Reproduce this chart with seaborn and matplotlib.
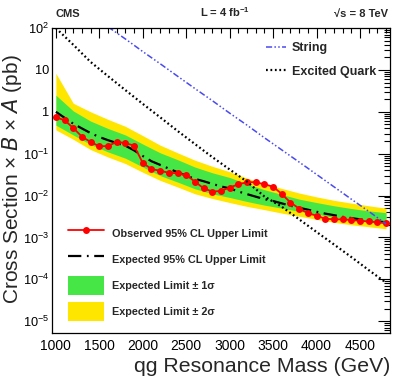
import numpy as np
import pandas as pd
import seaborn as sns
import matplotlib.pyplot as plt
from matplotlib.patches import Patch
from matplotlib.lines import Line2D
from matplotlib.ticker import FixedLocator, LogLocator, NullFormatter, MultipleLocator

# qg resonance mass points (GeV)
mass = [1000, 1100, 1200, 1300, 1400, 1500, 1600, 1700, 1800, 1900,
        2000, 2100, 2200, 2300, 2400, 2500, 2600, 2700, 2800, 2900,
        3000, 3100, 3200, 3300, 3400, 3500, 3600, 3700, 3800, 3900,
        4000, 4100, 4200, 4300, 4400, 4500, 4600, 4700, 4800]
observed = [0.74, 0.63, 0.41, 0.255, 0.19, 0.15, 0.152, 0.193, 0.178, 0.156,
            0.060, 0.043, 0.039, 0.035, 0.034, 0.031, 0.0215, 0.0149, 0.0124, 0.0129,
            0.0155, 0.0186, 0.0208, 0.0208, 0.0186, 0.0163, 0.0109, 0.0068, 0.0049, 0.0038,
            0.0033, 0.0028, 0.0027, 0.0027, 0.0026, 0.0025, 0.0024, 0.0023, 0.0022]
expected = [1.0, 0.72, 0.52, 0.40, 0.31, 0.25, 0.21, 0.18, 0.155, 0.12,
            0.088, 0.066, 0.054, 0.044, 0.036, 0.030, 0.025, 0.022, 0.019, 0.0165,
            0.0148, 0.0125, 0.0108, 0.0094, 0.0082, 0.0074, 0.0065, 0.0057, 0.0051, 0.0046,
            0.0041, 0.0037, 0.0034, 0.0031, 0.0029, 0.0027, 0.0025, 0.0024, 0.0023]

# expected limit bands
band_mass = [1000, 1200, 1400, 1600, 1800, 2000, 2200, 2400, 2600, 2800,
             3000, 3200, 3400, 3600, 3800, 4000, 4200, 4400, 4600, 4800]
minus_2sig = [0.37, 0.22, 0.125, 0.083, 0.058, 0.036, 0.023, 0.016, 0.011, 0.0085,
              0.0068, 0.0055, 0.0046, 0.0038, 0.0032, 0.0027, 0.0023, 0.0020, 0.0018, 0.0016]
minus_1sig = [0.48, 0.28, 0.165, 0.11, 0.078, 0.048, 0.030, 0.021, 0.0145, 0.011,
              0.0090, 0.0072, 0.0059, 0.0050, 0.0042, 0.0036, 0.0030, 0.0026, 0.0023, 0.0021]
plus_1sig = [2.5, 1.05, 0.60, 0.40, 0.28, 0.17, 0.105, 0.072, 0.048, 0.035,
             0.027, 0.019, 0.0138, 0.0106, 0.0082, 0.0068, 0.0057, 0.0049, 0.0043, 0.0039]
plus_2sig = [8.3, 1.6, 1.0, 0.66, 0.45, 0.27, 0.16, 0.105, 0.070, 0.050,
             0.037, 0.026, 0.019, 0.0148, 0.0115, 0.0093, 0.0077, 0.0066, 0.0057, 0.0050]

# model predictions
qstar_xsec = [100, 40, 15.5, 7.1, 3.3, 1.55, 0.74, 0.35, 0.17, 0.083,
              0.042, 0.0214, 0.0095, 0.0054, 0.0027, 0.00135, 6.8e-4, 3.4e-4, 1.66e-4, 8.3e-5]
string_mass = [1600, 1800, 2000, 2200, 2400, 2600, 2800, 3000, 3200, 3400,
               3600, 3800, 4000, 4200, 4400, 4600, 4800]
string_xsec = [107, 55, 27.5, 14.1, 7.1, 3.6, 1.85, 0.93, 0.48, 0.24,
               0.123, 0.063, 0.032, 0.0162, 0.0082, 0.0042, 0.0021]

y_ticks = [1e2, 1e1, 1, 1e-1, 1e-2, 1e-3, 1e-4, 1e-5]
y_labels = ["$10^{2}$", "10", "1", "$10^{-1}$", "$10^{-2}$", "$10^{-3}$", "$10^{-4}$", "$10^{-5}$"]
x_ticks = [1000, 1500, 2000, 2500, 3000, 3500, 4000, 4500]

sns.set_style("white")
plt.rcParams['font.family'] = ['Liberation Sans', 'DejaVu Sans']
plt.rcParams['mathtext.default'] = 'regular'

lim = pd.DataFrame({'mass': mass, 'observed': observed, 'expected': expected})
bands = pd.DataFrame({'mass': band_mass, 'm2': minus_2sig, 'm1': minus_1sig,
                      'p1': plus_1sig, 'p2': plus_2sig, 'qstar': qstar_xsec})
strings = pd.DataFrame({'mass': string_mass, 'xsec': string_xsec})

green = '#46e646'
yellow = '#ffe600'
blue = '#4a4af0'

fig = plt.figure(figsize=(3.99, 3.84), dpi=100)
ax = fig.add_axes([0.1303, 0.1328, 0.847, 0.794])

ax.fill_between(bands['mass'], bands['m2'], bands['p2'], color=yellow, lw=0)
ax.fill_between(bands['mass'], bands['m1'], bands['p1'], color=green, lw=0)

sns.lineplot(data=lim, x='mass', y='expected', ax=ax, color='black', lw=1.6,
             legend=False).lines[-1].set_dashes((6, 2.5, 0.8, 2.5))
sns.lineplot(data=lim, x='mass', y='observed', ax=ax, color='#ff0000', lw=1.3,
             marker='o', markersize=5, markeredgewidth=0, legend=False)
sns.lineplot(data=bands, x='mass', y='qstar', ax=ax, color='black', lw=1.6,
             legend=False).lines[-1].set_dashes((0.8, 1.2))
sns.lineplot(data=strings, x='mass', y='xsec', ax=ax, color=blue, lw=1.1,
             legend=False).lines[-1].set_dashes((4, 1.5, 1, 1.5, 1, 1.5))

ax.set_yscale('log')
ax.set_xlim(955, 4845)
ax.set_ylim(5.2e-6, 100)

ax.xaxis.set_major_locator(FixedLocator(x_ticks))
ax.xaxis.set_minor_locator(MultipleLocator(100))
ax.set_xticklabels([str(t) for t in x_ticks])
ax.yaxis.set_major_locator(FixedLocator(y_ticks))
ax.set_yticklabels(y_labels)
ax.yaxis.set_minor_locator(LogLocator(base=10, subs=np.arange(2, 10)))
ax.yaxis.set_minor_formatter(NullFormatter())

ax.tick_params(axis='both', which='both', direction='in', top=True, right=True,
               labelsize=10, colors='black', width=0.8)
ax.tick_params(axis='y', labelsize=9.2)
ax.tick_params(axis='x', which='major', length=7, pad=4)
ax.tick_params(axis='x', which='minor', length=3.5)
ax.tick_params(axis='y', which='major', length=9, pad=2)
ax.tick_params(axis='y', which='minor', length=4.5)
for s in ax.spines.values():
    s.set_color('black')
    s.set_linewidth(0.9)

ax.set_xlabel('qg Resonance Mass (GeV)', fontsize=15.3, loc='right', labelpad=3)
ax.set_ylabel('Cross Section × $\\mathit{B}$ × $\\mathit{A}$ (pb)', fontsize=15)
ax.yaxis.set_label_coords(-0.083, 0.505)

fig.text(0.14, 0.957, 'CMS', fontsize=8, fontweight='bold')
fig.text(0.565, 0.957, 'L = 4 fb$^{-1}$', fontsize=8, fontweight='bold', ha='center')
fig.text(0.972, 0.957, '√s = 8 TeV', fontsize=8, fontweight='bold', ha='right')

h_model = [Line2D([], [], color=blue, lw=1.1, dashes=(4, 1.5, 1, 1.5, 1, 1.5)),
           Line2D([], [], color='black', lw=1.6, dashes=(0.8, 1.2))]
leg1 = ax.legend(h_model, ['String', 'Excited Quark'], loc='upper left',
                 bbox_to_anchor=(0.6, 0.99), frameon=False, handlelength=1.6,
                 labelspacing=0.9, handletextpad=0.45,
                 prop={'weight': 'bold', 'size': 9})
ax.add_artist(leg1)

h_lim = [Line2D([], [], color='#ff0000', lw=1.3, marker='o', markersize=5, markeredgewidth=0),
         Line2D([], [], color='black', lw=1.6, dashes=(6, 2.5, 0.8, 2.5)),
         Patch(facecolor=green, edgecolor='none'),
         Patch(facecolor=yellow, edgecolor='none')]
leg2 = ax.legend(h_lim, ['Observed 95% CL Upper Limit', 'Expected 95% CL Upper Limit',
                         'Expected Limit ± 1σ', 'Expected Limit ± 2σ'],
                 loc='lower left', bbox_to_anchor=(0.02, 0.007), frameon=False,
                 handlelength=3.3, handleheight=2.4, labelspacing=0.6,
                 handletextpad=0.7, prop={'weight': 'bold', 'size': 7.8})

fig.savefig('out.png', dpi=100)
